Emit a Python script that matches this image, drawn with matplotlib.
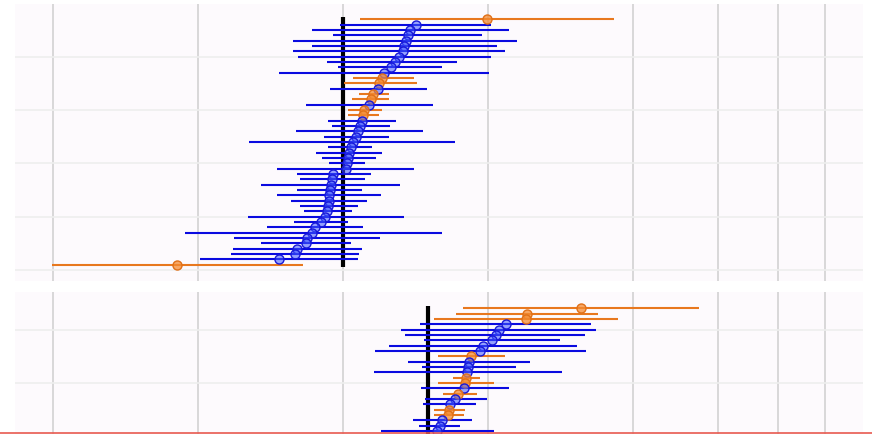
import matplotlib
matplotlib.use("Agg")
import matplotlib.pyplot as plt
from matplotlib.lines import Line2D

# Upper panel: ratio estimates with 95% intervals, listed from top row down
est1 = [1.99, 1.415, 1.377, 1.364, 1.351, 1.339, 1.332, 1.307, 1.282, 1.258,
        1.217, 1.202, 1.188, 1.182, 1.154, 1.143, 1.132, 1.106, 1.100, 1.095,
        1.084, 1.074, 1.064, 1.049, 1.039, 1.029, 1.024, 1.019, 1.014, 0.953,
        0.949, 0.944, 0.940, 0.935, 0.933, 0.931, 0.926, 0.918, 0.900, 0.875,
        0.862, 0.842, 0.838, 0.803, 0.795, 0.737, 0.452]
lo1 = [1.084, 0.986, 0.861, 0.953, 0.787, 0.862, 0.787, 0.806, 0.926, 0.976,
       0.737, 1.049, 1.005, 0.940, 1.079, 1.044, 0.838, 1.024, 1.022, 0.929,
       0.949, 0.799, 0.913, 0.638, 0.929, 0.879, 0.905, 0.935, 0.729, 0.803,
       0.814, 0.674, 0.803, 0.729, 0.780, 0.814, 0.830, 0.634, 0.791, 0.696,
       0.468, 0.594, 0.676, 0.591, 0.585, 0.505, 0.248]
hi1 = [3.65, 2.03, 2.21, 1.94, 2.30, 2.09, 2.17, 2.03, 1.725, 1.605,
       2.01, 1.404, 1.424, 1.494, 1.246, 1.246, 1.538, 1.205, 1.188, 1.289,
       1.249, 1.462, 1.246, 1.708, 1.149, 1.205, 1.171, 1.111, 1.404, 1.141,
       1.111, 1.313, 1.095, 1.199, 1.122, 1.074, 1.044, 1.339, 1.024, 1.100,
       1.605, 1.191, 1.039, 1.095, 1.079, 1.074, 0.826]
group1 = "o" + "b" * 10 + "oobooboo" + "b" * 27 + "o"
ref1 = 1.0

# Lower panel
est2 = [3.12, 2.41, 2.40, 2.175, 2.108, 2.078, 2.039, 1.95, 1.925, 1.844,
        1.828, 1.818, 1.811, 1.803, 1.794, 1.786, 1.735, 1.708, 1.668, 1.660,
        1.654, 1.603, 1.585, 1.565]
lo2 = [1.777, 1.719, 1.547, 1.445, 1.318, 1.341, 1.473, 1.242, 1.165, 1.571,
       1.366, 1.457, 1.161, 1.688, 1.577, 1.450, 1.608, 1.480, 1.468, 1.547,
       1.540, 1.393, 1.440, 1.199]
hi2 = [5.49, 3.39, 3.73, 3.27, 3.35, 3.18, 2.82, 3.06, 3.19, 2.17,
       2.445, 2.283, 2.845, 1.925, 2.058, 2.214, 1.895, 1.988, 1.888, 1.792,
       1.780, 1.855, 1.744, 2.06]
group2 = "ooo" + "b" * 6 + "o" + "bbb" + "oo" + "b" + "o" + "bb" + "oo" + "bbb"
ref2 = 1.5
n_rows2 = 44

xticks = [0.25, 0.5, 1, 2, 4, 6, 8, 10]
xlim = (0.208, 12.0)

BG = "#fdfafd"
COLORS = {
    "b": dict(line="#0a0ae0", face=(0.25, 0.35, 1.0, 0.55), edge="#1818d8"),
    "o": dict(line="#e8781e", face=(0.96, 0.55, 0.20, 0.75), edge="#e07018"),
}

fig = plt.figure(figsize=(8.72, 4.35), dpi=100)
fig.patch.set_facecolor("white")


def forest(ax, est, lo, hi, group, ref, top_row, ylim):
    ax.set_facecolor(BG)
    ax.set_xscale("log", base=2)
    ax.set_xlim(*xlim)
    ax.set_ylim(*ylim)
    ax.set_xticks(xticks)
    ax.minorticks_off()
    ax.set_yticks(range(0, int(ylim[1]), 10))
    ax.tick_params(length=0, labelbottom=False, labelleft=False)
    for s in ax.spines.values():
        s.set_visible(False)
    ax.grid(False)
    for xv in xticks:
        ax.axvline(xv, color="#d2d2d2", lw=1.2, zorder=0)
    for yv in range(0, int(ylim[1]), 10):
        ax.axhline(yv, color="#eeeeee", lw=1.2, zorder=0)
    ax.vlines(ref, 0.5, top_row + 0.5, color="black", lw=3.0, zorder=1)
    rows = [top_row - i for i in range(len(est))]
    for y, e, l, h, g in zip(rows, est, lo, hi, group):
        c = COLORS[g]
        ax.hlines(y, l, h, color=c["line"], lw=1.5, zorder=2)
    for y, e, g in zip(rows, est, group):
        c = COLORS[g]
        ax.plot([e], [y], "o", ms=6.5, mfc=c["face"], mec=c["edge"],
                mew=1.0, zorder=3)


left, width = 15 / 872, 847.7 / 872
ax1 = fig.add_axes([left, 1 - 281.7 / 435, width, 277.2 / 435])
forest(ax1, est1, lo1, hi1, group1, ref1, len(est1), (-2, 50))

h2 = 49 * 5.33 / 435
top2 = 1 - 293.3 / 435
ax2 = fig.add_axes([left, top2 - h2, width, h2])
forest(ax2, est2, lo2, hi2, group2, ref2, n_rows2, (-2, 47))

fig.add_artist(Line2D([0, 1], [0.0016, 0.0016], transform=fig.transFigure,
                      color="#e85a50", lw=1.2))

fig.savefig("out.png", dpi=100)
